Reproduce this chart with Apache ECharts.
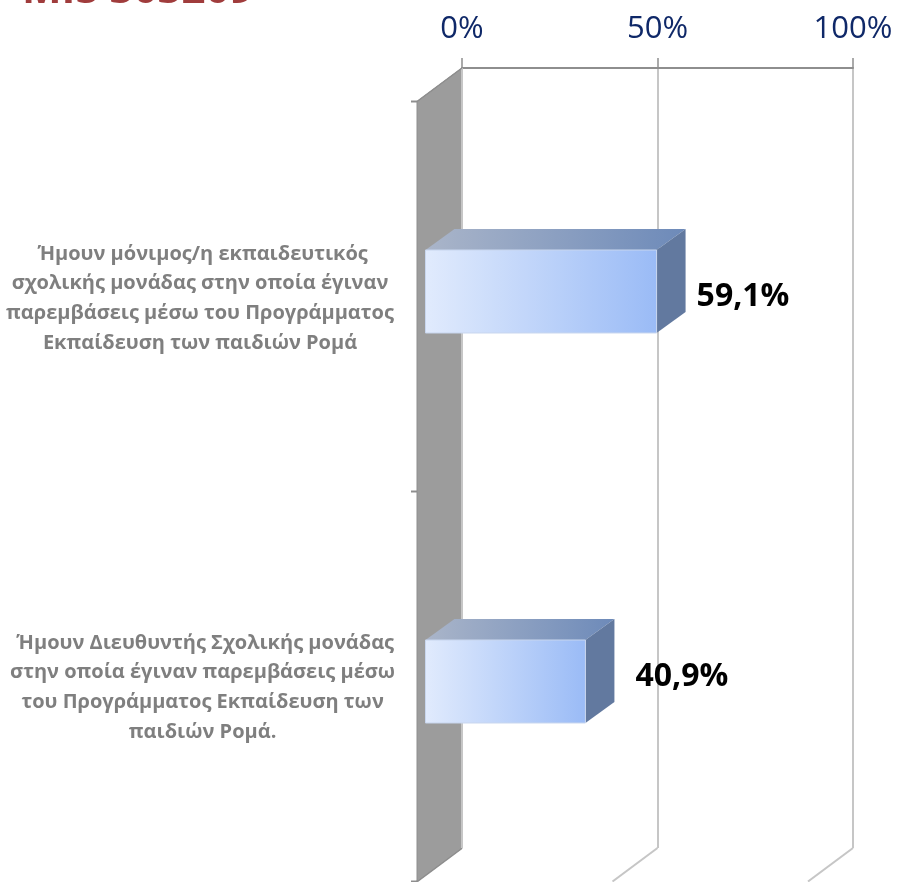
<!DOCTYPE html>
<html><head><meta charset="utf-8">
<style>html,body{margin:0;padding:0;background:#fff}#c{width:897px;height:882px}</style>
<script src="https://cdn.jsdelivr.net/npm/echarts@6/dist/echarts.min.js"></script>
</head><body><div id="c"></div>
<script>
const categories = [
 ' Ήμουν μόνιμος/η εκπαιδευτικός\nσχολικής μονάδας στην οποία έγιναν\nπαρεμβάσεις μέσω του Προγράμματος\nΕκπαίδευση των παιδιών Ρομά',
 '  Ήμουν Διευθυντής Σχολικής μονάδας\n στην οποία έγιναν παρεμβάσεις μέσω\n του Προγράμματος Εκπαίδευση των\n παιδιών Ρομά.'
];
const values = [59.1, 40.9];
const valueLabels = ['59,1%', '40,9%'];
const xTicks = [0, 50, 100];
const titleText = 'MIS 303209';

const FONT = '"Open Sans","Noto Sans",sans-serif';
const wallDX = 45, wallDY = 33.5;     // projection of the side wall
const barInsetX = 36.5, barInsetY = 28.5; // front of a bar relative to back plane
const depthX = 29, depthY = 21;       // bar thickness
const barBand = 0.2128;
const grad = (a, b) => new echarts.graphic.LinearGradient(0, 0, 1, 0, [{offset:0,color:a},{offset:1,color:b}]);

const chart = echarts.init(document.getElementById('c'), null, {renderer:'canvas'});
chart.setOption({
  animation:false,
  backgroundColor:'#fff',
  title:{text:titleText,left:17,top:-35,textStyle:{color:'#a03c3c',fontFamily:FONT,fontWeight:'bold',fontSize:42}},
  grid:[
    {left:462,width:391,top:68,height:780},
    {left:417,width:391,top:104,height:778}
  ],
  xAxis:[
   {type:'value',position:'top',min:0,max:100,interval:50,
    axisLine:{show:true,lineStyle:{color:'#8e8e8e',width:2}},
    axisTick:{show:true,length:10,lineStyle:{color:'#8e8e8e',width:1.5}},
    axisLabel:{color:'#0f2868',fontFamily:FONT,fontSize:31,margin:23,formatter:'{value}%'},
    splitLine:{show:true,lineStyle:{color:'#c6c6c6',width:2}}},
   {type:'value',gridIndex:1,min:0,max:100,show:false}
  ],
  yAxis:[
   {type:'category',inverse:true,data:categories,show:false},
   {type:'category',gridIndex:1,inverse:true,data:categories,
    axisLine:{show:false},axisTick:{show:false},
    axisLabel:{color:'#7f7f7f',fontFamily:FONT,fontWeight:'bold',fontSize:20,lineHeight:29.6,
      align:'center',margin:217,interval:0}}
  ],
  series:[
   {type:'custom',name:'wall',silent:true,z:1,clip:false,data:xTicks,
    encode:{x:0},
    renderItem(p,api){
      const v=api.value(0);
      const top=api.coord([v,categories[0]]);
      const band=api.size([0,1])[1];
      const x=top[0], yTop=top[1]-band/2, yBot=top[1]+band*1.5;
      const kids=[];
      // floor line of each tick
      kids.push({type:'line',shape:{x1:x,y1:yBot,x2:x-wallDX,y2:yBot+wallDY},
        style:{stroke:v===0?'#8e8e8e':'#c6c6c6',lineWidth:2}});
      if(v===0){
        kids.push({type:'polygon',shape:{points:[[x,yTop],[x,yBot],[x-wallDX,yBot+wallDY],[x-wallDX,yTop+wallDY]]},
          style:{fill:'#9c9c9c',stroke:'#8e8e8e',lineWidth:1}});
        kids.push({type:'line',shape:{x1:x,y1:yTop,x2:x,y2:yBot},style:{stroke:'#c6c6c6',lineWidth:2}});
        kids.push({type:'line',shape:{x1:x,y1:yTop,x2:x-wallDX,y2:yTop+wallDY},style:{stroke:'#8e8e8e',lineWidth:1.5}});
        [0,1,2].forEach(i=>{
          const y=yTop+wallDY+i*band;
          kids.push({type:'line',shape:{x1:x-wallDX-6,y1:y,x2:x-wallDX,y2:y},style:{stroke:'#8e8e8e',lineWidth:2}});
        });
      }
      return {type:'group',children:kids};
    }},
   {type:'custom',name:'bars',z:3,clip:false,
    data:values.map((v,i)=>[v,categories[i],valueLabels[i]]),
    encode:{x:0,y:1},
    renderItem(p,api){
      const v=api.value(0);
      const end=api.coord([v,categories[p.dataIndex]]);
      const start=api.coord([0,categories[p.dataIndex]]);
      const h=api.size([0,1])[1]*barBand;
      const x0=start[0]-barInsetX, x1=end[0]-barInsetX, yc=start[1]+barInsetY;
      const y0=yc-h/2, y1=yc+h/2;
      const gapLabel=p.dataIndex===0?40:50;
      return {type:'group',children:[
        {type:'polygon',shape:{points:[[x0,y0],[x0+depthX,y0-depthY],[x1+depthX,y0-depthY],[x1,y0]]},
          style:{fill:grad('#aab5c9','#6d8ab9')}},
        {type:'polygon',shape:{points:[[x1,y0],[x1+depthX,y0-depthY],[x1+depthX,y1-depthY],[x1,y1]]},
          style:{fill:'#62799f'}},
        {type:'rect',shape:{x:x0,y:y0,width:x1-x0,height:h},
          style:{fill:grad('#e1ebfd','#9abbf6'),stroke:'#c8d6ee',lineWidth:1}},
        {type:'text',x:x1+gapLabel,y:p.dataIndex===0?yc+5:yc-5,
          style:{text:api.value(2),fill:'#000',fontFamily:FONT,fontWeight:'bold',fontSize:32,
            align:'left',verticalAlign:'middle'}}
      ]};
    }}
  ]
});
</script></body></html>
